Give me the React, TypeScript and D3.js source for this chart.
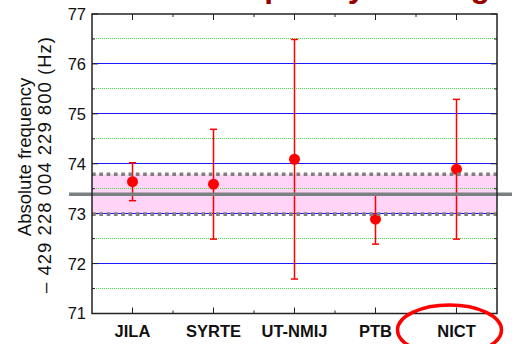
import React from "react";
import * as d3 from "d3";

// Laboratories and their measured frequency offsets (Hz) with 1-sigma uncertainties
const labs = ["JILA", "SYRTE", "UT-NMIJ", "PTB", "NICT"];
const values = [73.64, 73.59, 74.09, 72.89, 73.89];
const uncertainties = [0.38, 1.1, 2.4, 0.5, 1.4];

// Weighted mean and its band
const meanValue = 73.39;
const bandHalfWidth = 0.4;

const yMajorTicks = [71, 72, 73, 74, 75, 76, 77];
const yMinorTicks = [71.5, 72.5, 73.5, 74.5, 75.5, 76.5];

const titleText = "Absolute frequency ranking";
const yLabelLine1 = "Absolute frequency";
const yLabelLine2 = "\u2013 429 228 004 229 800 (Hz)";

const W = 512;
const H = 344;
const left = 92;
const right = 497;
const top = 14;
const bottom = 313.5;

export default function App() {
  const x = d3.scaleLinear().domain([0.5, labs.length + 0.5]).range([left, right]);
  const y = d3.scaleLinear().domain([71, 77]).range([bottom, top]);

  const xHalfTicks = d3.range(1, labs.length).map((v) => v + 0.5);
  const font = "'Liberation Sans', Arial, sans-serif";

  const yTop = y(meanValue + bandHalfWidth);
  const yBot = y(meanValue - bandHalfWidth);

  return (
    <svg
      width={W}
      height={H}
      style={{ position: "absolute", left: 0, top: 0, background: "#fff" }}
      fontFamily={font}
    >
      {/* title, mostly above the visible area */}
      <text x={490} y={-3} textAnchor="end" fontSize={32} fontWeight="bold" fill="#990000">
        {titleText}
      </text>

      {/* mean uncertainty band */}
      <rect x={left} y={yTop} width={right - left} height={yBot - yTop} fill="#ffd4f6" />

      {/* grid lines */}
      {yMinorTicks.map((t) => (
        <line key={"g" + t} x1={left} x2={right} y1={y(t)} y2={y(t)} stroke="#44dd44" strokeWidth={1} strokeDasharray="1,1" shapeRendering="crispEdges" />
      ))}
      {yMajorTicks.filter((t) => t > 71 && t < 77).map((t) => (
        <line key={"b" + t} x1={left} x2={right} y1={y(t)} y2={y(t)} stroke="#1a1aff" strokeWidth={1} shapeRendering="crispEdges" />
      ))}

      {/* y ticks on both sides */}
      {yMajorTicks.map((t) => (
        <g key={"yt" + t}>
          <line x1={left} x2={left + 6} y1={y(t)} y2={y(t)} stroke="#222" />
          <line x1={right} x2={right - 6} y1={y(t)} y2={y(t)} stroke="#222" />
          <text x={86} y={y(t)} dy="0.36em" textAnchor="end" fontSize={16.5} fill="#111">
            {t}
          </text>
        </g>
      ))}
      {yMinorTicks.map((t) => (
        <g key={"ym" + t}>
          <line x1={left} x2={left + 3} y1={y(t)} y2={y(t)} stroke="#222" />
          <line x1={right} x2={right - 3} y1={y(t)} y2={y(t)} stroke="#222" />
        </g>
      ))}

      {/* x ticks top and bottom */}
      {labs.map((lab, i) => (
        <g key={"xt" + lab}>
          <line x1={x(i + 1)} x2={x(i + 1)} y1={bottom} y2={bottom - 6} stroke="#222" />
          <line x1={x(i + 1)} x2={x(i + 1)} y1={top} y2={top + 6} stroke="#222" />
          <text x={x(i + 1)} y={336.5} textAnchor="middle" fontSize={16.5} fontWeight="bold" fill="#111">
            {lab}
          </text>
        </g>
      ))}
      {xHalfTicks.map((t) => (
        <g key={"xm" + t}>
          <line x1={x(t)} x2={x(t)} y1={bottom} y2={bottom - 3} stroke="#222" />
          <line x1={x(t)} x2={x(t)} y1={top} y2={top + 3} stroke="#222" />
        </g>
      ))}

      {/* measurements */}
      {labs.map((lab, i) => {
        const cx = x(i + 1);
        const v = values[i];
        const u = uncertainties[i];
        return (
          <g key={"d" + lab} stroke="#ff0000" strokeWidth={1.5}>
            <line x1={cx} x2={cx} y1={y(v + u)} y2={y(v - u)} />
            <line x1={cx - 3.5} x2={cx + 3.5} y1={y(v + u)} y2={y(v + u)} />
            <line x1={cx - 3.5} x2={cx + 3.5} y1={y(v - u)} y2={y(v - u)} />
            <circle cx={cx} cy={y(v)} r={5.5} fill="#ff0000" stroke="none" />
          </g>
        );
      })}

      {/* mean and band edges */}
      <line x1={left} x2={right} y1={yTop} y2={yTop} stroke="#808080" strokeWidth={3.7} strokeDasharray="3.7,3.6" />
      <line x1={left} x2={right} y1={yBot} y2={yBot} stroke="#808080" strokeWidth={3.7} strokeDasharray="3.7,3.6" />
      <line x1={69} x2={W} y1={y(meanValue)} y2={y(meanValue)} stroke="#7b8082" strokeWidth={3.6} />

      {/* frame */}
      <rect x={left} y={top} width={right - left} height={bottom - top} fill="none" stroke="#222" strokeWidth={1.5} />

      {/* y axis label */}
      <g transform={`translate(25, 157) rotate(-90)`}>
        <text x={0} y={0} dy="0.35em" textAnchor="middle" fontSize={18.5} fill="#111">
          {yLabelLine1}
        </text>
      </g>
      <g transform={`translate(45, 165) rotate(-90)`}>
        <text x={0} y={0} dy="0.35em" textAnchor="middle" fontSize={18.5} fill="#111" textLength={256} lengthAdjust="spacing">
          {yLabelLine2}
        </text>
      </g>

      {/* highlight ellipse */}
      <ellipse cx={449.5} cy={330} rx={52} ry={25} fill="none" stroke="#ff0000" strokeWidth={3.5} />
    </svg>
  );
}
